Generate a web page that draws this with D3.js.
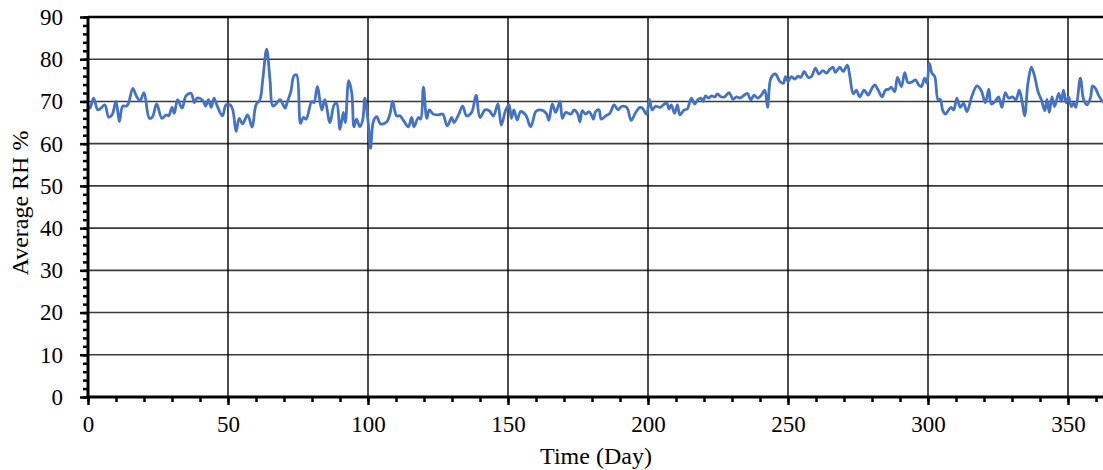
<!DOCTYPE html>
<html>
<head>
<meta charset="utf-8">
<script src="https://cdn.jsdelivr.net/npm/d3@7"></script>
<style>
  html, body { margin: 0; padding: 0; background: #fff; }
  svg { display: block; }
  text { font-family: "Liberation Serif", "Times New Roman", serif; fill: #000; }
</style>
</head>
<body>
<svg id="chart" width="1103" height="470"></svg>
<script>
// Daily average relative humidity over one year
const days = [
  0, 0.7, 2, 3.5, 4.6, 6, 7.4, 8.6, 10, 11.2, 12.4, 13.8, 14.5, 16, 17.4, 18.6, 20, 21.9, 23, 24.5,
  26.4, 27.9, 28.8, 30, 30.8, 32, 33.6, 35, 36.8, 38, 39, 41, 42, 43, 44, 45, 46, 48, 49.3, 50.7,
  51.7, 52.9, 54, 55.2, 57, 58.6, 60, 61.4, 62.4, 63.8, 65, 66, 67.4, 68.6, 70.4, 71, 72.5, 73.5, 74.5, 75.9,
  76.9, 77.9, 79.9, 80.7, 81.9, 83.5, 84.6, 86.4, 87.9, 88.8, 90, 91.2, 91.9, 93.1, 94.2, 95, 95.9, 97.1, 98.1, 98.9,
  100.1, 100.9, 101.9, 103.1, 104.5, 106.7, 107.9, 108.8, 110.2, 111.4, 112.6, 114.4, 115.6, 116.4, 118, 118.8, 119.8, 121, 121.9, 123.3,
  125.1, 126.7, 128.3, 129.9, 130.7, 132.3, 133.8, 135.2, 137, 138.6, 140, 141.8, 143.3, 144.8, 146.4, 147.6, 149.2, 150.4, 151.2, 152.1,
  153.3, 154.5, 156.3, 158.1, 159.9, 161.1, 162.6, 163.8, 164.6, 165.8, 167, 168.6, 169.4, 170.6, 172.4, 173.6, 174.8, 175.7, 176.5, 177.7,
  178.9, 179.8, 180.5, 181.3, 182.5, 183.3, 184.9, 186.4, 187.9, 189.3, 190.5, 192.4, 194, 195.6, 197.1, 198, 199.5, 200.5, 201.5, 202.7,
  204.3, 205.5, 206.7, 207.5, 208.3, 209.5, 210.5, 211.4, 212.9, 214, 215.5, 216.7, 217.9, 218.9, 219.7, 220.5, 221.7, 222.7, 223.9, 224.8,
  226, 227.4, 228.9, 230.4, 231.6, 232.8, 234, 235.5, 236.7, 237.9, 239.1, 240.5, 241.7, 242.7, 243.9, 245.5, 247.1, 248.3, 249.1, 250,
  251.2, 252.4, 253.6, 254.6, 255.8, 257.2, 258.4, 259.8, 261, 262.5, 263.7, 264.9, 266.1, 266.9, 268.5, 269.7, 271.2, 272.1, 273.3, 274.4,
  275.6, 277.2, 278.6, 279.8, 281, 282.2, 283.6, 284.8, 286, 286.9, 288.1, 289.1, 290.5, 291.7, 292.8, 294, 295.5, 296.7, 297.6, 298.8,
  299.6, 300.5, 301.4, 302.4, 303.6, 304.4, 305.2, 306.2, 307.4, 308.3, 309.2, 310.3, 311.5, 312.7, 313.9, 315.7, 317.5, 319, 320.5, 321.7,
  322.6, 324, 325.2, 326.4, 327.6, 328.8, 330.2, 331.4, 332.6, 333.6, 334.5, 335.7, 336.9, 338.1, 339.3, 340.5, 341.7, 342.5, 343.3, 344.3,
  345.2, 346.7, 347.6, 348.4, 349.3, 350.2, 351.2, 352, 352.8, 354.4, 355.6, 356.8, 358, 358.8, 359.8, 360.9, 362.1, 363.5
];

const rh = [
  69.0, 68.4, 70.8, 68.0, 68.4, 69.2, 66.3, 66.8, 70.0, 65.2, 68.9, 68.9, 69.6, 73.1, 71.1, 70.2, 72.1, 66.0, 66.3, 69.4,
  66.0, 66.8, 66.6, 68.6, 67.2, 70.4, 68.4, 71.3, 71.9, 69.7, 70.8, 70.2, 68.9, 70.4, 68.6, 70.8, 69.2, 66.6, 69.2, 69.2,
  68.0, 62.9, 66.0, 64.7, 66.8, 63.9, 69.2, 70.4, 75.1, 82.4, 75.1, 68.9, 69.6, 70.4, 68.4, 69.5, 72.5, 76.0, 76.3, 64.8,
  66.2, 65.8, 70.0, 69.7, 73.5, 68.0, 70.4, 65.0, 69.2, 69.6, 63.4, 67.4, 65.0, 74.9, 72.0, 64.0, 65.8, 64.0, 65.6, 70.8,
  64.8, 58.9, 65.2, 66.4, 64.7, 65.2, 67.2, 70.0, 66.6, 66.6, 65.6, 64.0, 66.2, 64.0, 66.2, 65.8, 73.4, 66.0, 68.0, 67.0,
  66.8, 67.0, 64.2, 66.2, 65.0, 66.8, 68.9, 66.6, 67.4, 71.5, 66.2, 68.0, 67.8, 66.6, 69.4, 64.4, 68.0, 69.2, 66.0, 68.0,
  65.6, 67.6, 66.8, 64.0, 67.6, 68.0, 67.8, 67.0, 65.5, 69.4, 67.4, 70.0, 66.0, 67.4, 67.0, 68.0, 67.2, 65.2, 67.8, 67.0,
  67.6, 66.8, 65.8, 67.6, 68.0, 65.8, 66.6, 67.2, 69.2, 68.0, 68.8, 68.6, 65.5, 67.4, 68.6, 68.4, 67.0, 70.5, 68.0, 68.9,
  68.6, 69.2, 69.6, 68.2, 69.2, 67.2, 69.2, 66.8, 68.0, 68.2, 70.8, 69.4, 70.5, 70.8, 70.0, 71.3, 70.8, 71.3, 71.1, 71.8,
  71.1, 71.1, 72.1, 70.5, 71.1, 70.8, 71.3, 71.9, 70.4, 71.5, 70.8, 71.5, 72.7, 68.6, 75.5, 76.5, 74.7, 74.3, 75.9, 74.7,
  75.9, 75.3, 76.0, 75.7, 77.1, 75.7, 75.9, 77.9, 76.5, 77.3, 76.7, 77.6, 78.1, 76.9, 78.1, 77.1, 78.6, 75.9, 71.8, 72.7,
  71.1, 72.7, 71.5, 72.9, 73.9, 72.7, 71.1, 72.7, 72.9, 73.4, 72.3, 75.7, 73.5, 76.8, 74.5, 74.5, 75.1, 73.9, 73.5, 75.5,
  74.3, 79.0, 76.7, 75.9, 70.4, 70.5, 68.0, 67.0, 68.0, 68.6, 68.0, 70.8, 68.6, 69.6, 67.6, 71.3, 73.7, 72.6, 69.7, 72.9,
  69.4, 70.0, 71.1, 68.6, 72.1, 70.8, 71.1, 70.4, 72.7, 70.0, 66.6, 74.3, 78.1, 75.9, 72.3, 70.4, 67.8, 70.5, 67.4, 71.1,
  68.8, 71.9, 70.0, 72.7, 69.7, 71.1, 68.8, 69.6, 68.6, 75.5, 70.4, 69.2, 70.8, 73.7, 73.1, 71.5, 70.2, 69.4
];

const xMajorTicks = [0, 50, 100, 150, 200, 250, 300, 350];
const yMajorTicks = [0, 10, 20, 30, 40, 50, 60, 70, 80, 90];
const xTitle = "Time (Day)";
const yTitle = "Average RH %";

const svg = d3.select("#chart");
const margin = { left: 88, top: 17, bottom: 73 };
const H = 470;
const plotBottom = H - margin.bottom;

const x = d3.scaleLinear().domain([0, 365]).range([margin.left, margin.left + 365 * 2.8]);
const y = d3.scaleLinear().domain([0, 90]).range([plotBottom, margin.top]);
const xRight = 1103;

// horizontal gridlines
svg.append("g")
  .selectAll("line")
  .data(yMajorTicks.filter(d => d > 0))
  .join("line")
  .attr("x1", margin.left).attr("x2", xRight)
  .attr("y1", d => y(d)).attr("y2", d => y(d))
  .attr("stroke", d => d === 90 ? "#000" : "#3a3a3a")
  .attr("stroke-width", d => d === 90 ? 2.5 : 1.6);

// vertical gridlines
svg.append("g")
  .selectAll("line")
  .data(xMajorTicks.filter(d => d > 0))
  .join("line")
  .attr("x1", d => x(d)).attr("x2", d => x(d))
  .attr("y1", margin.top).attr("y2", plotBottom)
  .attr("stroke", "#000")
  .attr("stroke-width", 1.4);

// data line
const line = d3.line()
  .x((d, i) => x(days[i]))
  .y(d => y(d))
  .curve(d3.curveCatmullRom.alpha(0.5));

svg.append("path")
  .datum(rh)
  .attr("d", line)
  .attr("fill", "none")
  .attr("stroke", "#4472C4")
  .attr("stroke-width", 2.8)
  .attr("stroke-linejoin", "round");

// x axis: minor ticks every 10, major every 50
const xAxisMinor = d3.axisBottom(x).tickValues(d3.range(0, 361, 10)).tickSize(5).tickFormat("");
const xAxisMajor = d3.axisBottom(x).tickValues(xMajorTicks).tickSize(8).tickPadding(11).tickFormat(d3.format("d"));

const gxMinor = svg.append("g").attr("transform", `translate(0,${plotBottom})`).call(xAxisMinor);
const gx = svg.append("g").attr("transform", `translate(0,${plotBottom})`).call(xAxisMajor);
[gxMinor, gx].forEach(g => {
  g.select(".domain").remove();
  g.selectAll(".tick line").attr("stroke", "#000").attr("stroke-width", 2.5);
});
gx.selectAll(".tick text")
  .style("font-family", "'Liberation Serif', serif")
  .style("font-size", "23px")
  .attr("fill", "#000");

// y axis: minor ticks every 2, major every 10
const yAxisMinor = d3.axisLeft(y).tickValues(d3.range(0, 91, 2)).tickSize(5).tickFormat("");
const yAxisMajor = d3.axisLeft(y).tickValues(yMajorTicks).tickSize(8).tickPadding(17).tickFormat(d3.format("d"));

const gyMinor = svg.append("g").attr("transform", `translate(${margin.left},0)`).call(yAxisMinor);
const gy = svg.append("g").attr("transform", `translate(${margin.left},0)`).call(yAxisMajor);
[gyMinor, gy].forEach(g => {
  g.select(".domain").remove();
  g.selectAll(".tick line").attr("stroke", "#000").attr("stroke-width", 2.5);
});
gy.selectAll(".tick text")
  .style("font-family", "'Liberation Serif', serif")
  .style("font-size", "23px")
  .attr("fill", "#000");

// axis lines
svg.append("line")
  .attr("x1", margin.left - 1.5).attr("x2", xRight)
  .attr("y1", plotBottom).attr("y2", plotBottom)
  .attr("stroke", "#000").attr("stroke-width", 3);
svg.append("line")
  .attr("x1", margin.left).attr("x2", margin.left)
  .attr("y1", margin.top - 1).attr("y2", plotBottom + 1.5)
  .attr("stroke", "#000").attr("stroke-width", 3);

// axis titles
svg.append("text")
  .attr("x", 596)
  .attr("y", 464)
  .attr("text-anchor", "middle")
  .style("font-size", "24px")
  .text(xTitle);

svg.append("text")
  .attr("transform", `translate(28,203) rotate(-90)`)
  .attr("text-anchor", "middle")
  .style("font-size", "24px")
  .text(yTitle);
</script>
</body>
</html>
